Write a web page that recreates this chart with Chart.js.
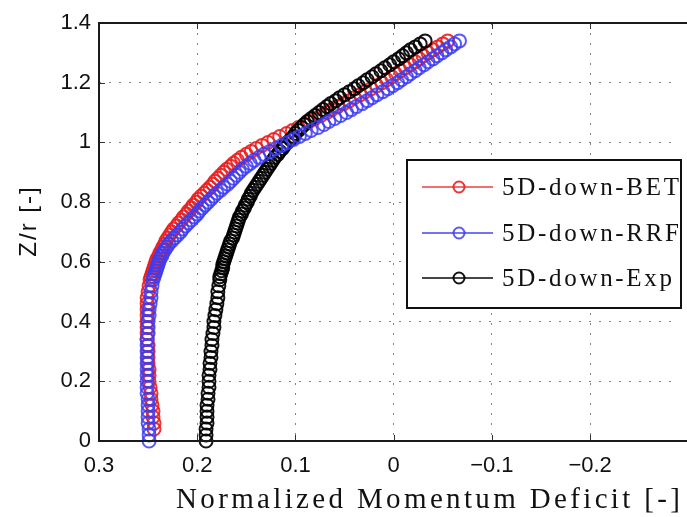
<!DOCTYPE html>
<html>
<head>
<meta charset="utf-8">
<script src="https://cdn.jsdelivr.net/npm/chart.js@4.4.1/dist/chart.umd.min.js"></script>
<style>
  html, body { margin: 0; padding: 0; background: #fff; overflow: hidden; }
  canvas { display: block; }
</style>
</head>
<body>
<canvas id="deficitChart" width="687" height="517"></canvas>
<script>
// Z/r levels the curves were read at (finer where the bands lean over)
const heights = [
  0.00, 0.02, 0.04, 0.06, 0.08, 0.10, 0.12, 0.14, 0.16, 0.18,
  0.20, 0.22, 0.24, 0.26, 0.28, 0.30, 0.32, 0.34, 0.36, 0.38,
  0.40, 0.42, 0.44, 0.46, 0.48, 0.50, 0.52, 0.54,
  0.55, 0.56, 0.57, 0.58, 0.59, 0.60, 0.61, 0.62, 0.63, 0.64,
  0.65, 0.66, 0.67, 0.68, 0.69, 0.70, 0.71, 0.72, 0.73, 0.74,
  0.75, 0.76, 0.77, 0.78, 0.79, 0.80, 0.81, 0.82, 0.83, 0.84,
  0.85, 0.86, 0.87, 0.88, 0.89, 0.90, 0.91, 0.92, 0.93, 0.94,
  0.95, 0.96, 0.97, 0.98, 0.99, 1.00, 1.01, 1.02, 1.03, 1.04,
  1.05, 1.06, 1.07, 1.08, 1.09, 1.10, 1.11, 1.12, 1.13, 1.14,
  1.15, 1.16, 1.17, 1.18, 1.19, 1.20, 1.21, 1.22, 1.23, 1.24,
  1.25, 1.26, 1.27, 1.28, 1.29, 1.30, 1.31, 1.32, 1.33, 1.34
];

// normalized momentum deficit per series
const betDeficit = [
  null, null, 0.244, 0.244, 0.245, 0.245, 0.246, 0.247, 0.247, 0.248,
  0.249, 0.249, 0.249, 0.250, 0.250, 0.250, 0.250, 0.251, 0.251, 0.251,
  0.251, 0.251, 0.251, 0.251, 0.251, 0.250, 0.249, 0.248,
  0.247, 0.246, 0.245, 0.244, 0.243, 0.242, 0.241, 0.239, 0.238, 0.236,
  0.235, 0.233, 0.232, 0.230, 0.228, 0.226, 0.224, 0.221, 0.219, 0.216,
  0.214, 0.211, 0.209, 0.206, 0.204, 0.201, 0.199, 0.196, 0.193, 0.190,
  0.187, 0.184, 0.182, 0.179, 0.176, 0.173, 0.170, 0.166, 0.163, 0.159,
  0.155, 0.150, 0.145, 0.140, 0.134, 0.128, 0.122, 0.116, 0.109, 0.103,
  0.097, 0.091, 0.086, 0.080, 0.074, 0.068, 0.063, 0.057, 0.051, 0.045,
  0.040, 0.034, 0.029, 0.023, 0.017, 0.012, 0.007, 0.002, -0.002, -0.007,
  -0.012, -0.017, -0.022, -0.026, -0.030, -0.035, -0.040, -0.045, -0.050, -0.055
];
const rrfDeficit = [
  0.249, 0.249, 0.249, 0.250, 0.250, 0.250, 0.250, 0.250, 0.251, 0.251,
  0.251, 0.251, 0.251, 0.251, 0.251, 0.251, 0.251, 0.251, 0.250, 0.250,
  0.250, 0.249, 0.249, 0.248, 0.247, 0.247, 0.246, 0.245,
  0.244, 0.243, 0.242, 0.241, 0.240, 0.239, 0.238, 0.236, 0.235, 0.233,
  0.231, 0.229, 0.226, 0.223, 0.220, 0.217, 0.215, 0.212, 0.209, 0.206,
  0.203, 0.200, 0.198, 0.195, 0.192, 0.189, 0.186, 0.183, 0.180, 0.176,
  0.173, 0.169, 0.166, 0.163, 0.160, 0.157, 0.154, 0.150, 0.146, 0.142,
  0.137, 0.132, 0.126, 0.120, 0.114, 0.108, 0.102, 0.096, 0.090, 0.084,
  0.077, 0.071, 0.066, 0.060, 0.054, 0.048, 0.043, 0.038, 0.032, 0.027,
  0.022, 0.017, 0.011, 0.006, 0.001, -0.004, -0.008, -0.013, -0.017, -0.022,
  -0.026, -0.031, -0.035, -0.040, -0.044, -0.049, -0.053, -0.058, -0.062, -0.067
];
const expDeficit = [
  0.191, 0.191, 0.191, 0.190, 0.190, 0.190, 0.190, 0.189, 0.189, 0.188,
  0.188, 0.188, 0.187, 0.187, 0.186, 0.186, 0.185, 0.185, 0.184, 0.183,
  0.183, 0.182, 0.181, 0.180, 0.179, 0.179, 0.178, 0.177,
  0.177, 0.176, 0.175, 0.174, 0.174, 0.173, 0.172, 0.171, 0.170, 0.169,
  0.168, 0.167, 0.166, 0.164, 0.163, 0.162, 0.161, 0.160, 0.159, 0.158,
  0.157, 0.155, 0.154, 0.152, 0.151, 0.149, 0.148, 0.146, 0.145, 0.143,
  0.141, 0.139, 0.137, 0.135, 0.133, 0.131, 0.129, 0.127, 0.125, 0.123,
  0.121, 0.118, 0.116, 0.113, 0.111, 0.108, 0.105, 0.102, 0.100, 0.097,
  0.094, 0.091, 0.088, 0.084, 0.080, 0.076, 0.072, 0.068, 0.064, 0.059,
  0.055, 0.050, 0.045, 0.040, 0.036, 0.031, 0.027, 0.022, 0.018, 0.013,
  0.009, 0.004, 0.000, -0.005, -0.009, -0.013, -0.017, -0.022, -0.027, -0.032
];

const seriesNames = ['5D-down-BET', '5D-down-RRF', '5D-down-Exp'];

const xTicks = [0.3, 0.2, 0.1, 0, -0.1, -0.2];
const xTickLabels = ['0.3', '0.2', '0.1', '0', '\u22120.1', '\u22120.2'];
const yTicks = [0, 0.2, 0.4, 0.6, 0.8, 1.0, 1.2, 1.4];
const yTickLabels = ['0', '0.2', '0.4', '0.6', '0.8', '1', '1.2', '1.4'];

const xTitle = 'Normalized Momentum Deficit [-]';
const yTitle = 'Z/r [-]';

function toPoints(values) {
    const pts = [];
    values.forEach(function (v, i) {
        if (v !== null) pts.push({ x: v, y: heights[i] });
    });
    return pts;
}

const markerColors = ['rgba(232,32,32,0.9)', 'rgba(60,60,245,0.85)', 'rgba(0,0,0,0.92)'];
const legendLineColors = ['rgb(245,110,110)', 'rgb(115,115,245)', 'rgb(70,70,70)'];

// frame, inner tick marks, legend box and axis titles
const decorPlugin = {
    id: 'decor',
    afterDraw(chart) {
        const ctx = chart.ctx;
        const area = chart.chartArea;
        const xs = chart.scales.x;
        const ys = chart.scales.y;
        ctx.save();

        // tick marks pointing inward
        ctx.strokeStyle = '#333';
        ctx.lineWidth = 1;
        xTicks.forEach(function (v) {
            const px = Math.round(xs.getPixelForValue(v)) + 0.5;
            ctx.beginPath();
            ctx.moveTo(px, area.top); ctx.lineTo(px, area.top + 6);
            ctx.moveTo(px, area.bottom); ctx.lineTo(px, area.bottom - 6);
            ctx.stroke();
        });
        yTicks.forEach(function (v) {
            const py = Math.round(ys.getPixelForValue(v)) + 0.5;
            ctx.beginPath();
            ctx.moveTo(area.left, py); ctx.lineTo(area.left + 6, py);
            ctx.stroke();
        });

        // axes box (right side runs off the picture)
        ctx.strokeStyle = '#1a1a1a';
        ctx.lineWidth = 2;
        ctx.beginPath();
        ctx.moveTo(chart.width + 5, area.top);
        ctx.lineTo(area.left, area.top);
        ctx.lineTo(area.left, area.bottom);
        ctx.lineTo(chart.width + 5, area.bottom);
        ctx.stroke();

        // legend
        const box = { x: 407, y: 160, w: 274, h: 148 };
        ctx.fillStyle = '#fff';
        ctx.fillRect(box.x, box.y, box.w, box.h);
        ctx.strokeStyle = '#111';
        ctx.lineWidth = 2;
        ctx.strokeRect(box.x, box.y, box.w, box.h);
        ctx.save();
        ctx.beginPath();
        ctx.rect(box.x + 1, box.y + 1, box.w - 2, box.h - 2);
        ctx.clip();
        const rows = [187, 233, 278];
        seriesNames.forEach(function (name, i) {
            const y = rows[i];
            ctx.strokeStyle = legendLineColors[i];
            ctx.lineWidth = 2;
            ctx.beginPath();
            ctx.moveTo(422, y); ctx.lineTo(493, y);
            ctx.stroke();
            ctx.strokeStyle = markerColors[i];
            ctx.beginPath();
            ctx.arc(459, y, 5.5, 0, Math.PI * 2);
            ctx.stroke();
            ctx.fillStyle = '#111';
            ctx.font = '25px "Liberation Serif", serif';
            ctx.textBaseline = 'middle';
            ctx.textAlign = 'left';
            ctx.letterSpacing = '2.7px';
            ctx.fillText(name, 502, y + 1);
        });
        ctx.restore();

        // x title
        ctx.fillStyle = '#111';
        ctx.font = '29px "Liberation Serif", serif';
        ctx.textAlign = 'left';
        ctx.textBaseline = 'alphabetic';
        ctx.letterSpacing = '0px';
        const w = ctx.measureText(xTitle).width;
        ctx.letterSpacing = ((504 - w) / (xTitle.length - 1)).toFixed(2) + 'px';
        ctx.fillText(xTitle, 176, 508);

        // y title
        ctx.translate(29, 221);
        ctx.rotate(-Math.PI / 2);
        ctx.font = '24px "Liberation Sans", sans-serif';
        ctx.letterSpacing = '2px';
        ctx.textAlign = 'center';
        ctx.textBaseline = 'middle';
        ctx.fillText(yTitle, 0, 0);
        ctx.restore();
    }
};

document.addEventListener('DOMContentLoaded', function () {
    const canvas = document.getElementById('deficitChart');
    const ctx = canvas.getContext('2d');
    const dataSets = [betDeficit, rrfDeficit, expDeficit];
    const drawOrder = [3, 1, 2];

    new Chart(ctx, {
        type: 'scatter',
        data: {
            datasets: dataSets.map(function (vals, i) {
                return {
                    label: seriesNames[i],
                    data: toPoints(vals),
                    borderColor: markerColors[i],
                    backgroundColor: 'rgba(0,0,0,0)',
                    pointRadius: 6.5,
                    pointBorderWidth: 2,
                    showLine: false,
                    clip: false,
                    order: drawOrder[i]
                };
            })
        },
        options: {
            responsive: false,
            animation: false,
            devicePixelRatio: 1,
            layout: { padding: { top: 23, right: 0, left: 0, bottom: 0 } },
            plugins: { legend: { display: false }, tooltip: { enabled: false } },
            scales: {
                x: {
                    type: 'linear',
                    reverse: true,
                    min: -0.29,
                    max: 0.3,
                    afterBuildTicks: function (scale) {
                        scale.ticks = xTicks.map(function (v) { return { value: v }; });
                    },
                    afterFit: function (scale) { scale.height = 76; },
                    ticks: {
                        autoSkip: false,
                        maxRotation: 0,
                        padding: 12,
                        color: '#111',
                        font: { family: '"Liberation Sans", Arial, sans-serif', size: 22 },
                        callback: function (value) {
                            const idx = xTicks.findIndex(function (t) { return Math.abs(t - value) < 1e-9; });
                            return idx >= 0 ? xTickLabels[idx] : '';
                        }
                    },
                    grid: { color: 'rgba(90,90,90,0.75)', lineWidth: 1, drawTicks: false },
                    border: { display: false, dash: [2, 8] }
                },
                y: {
                    type: 'linear',
                    min: 0,
                    max: 1.4,
                    afterBuildTicks: function (scale) {
                        scale.ticks = yTicks.map(function (v) { return { value: v }; });
                    },
                    afterFit: function (scale) { scale.width = 99; },
                    ticks: {
                        autoSkip: false,
                        padding: 8,
                        color: '#111',
                        font: { family: '"Liberation Sans", Arial, sans-serif', size: 22 },
                        callback: function (value) {
                            const idx = yTicks.findIndex(function (t) { return Math.abs(t - value) < 1e-9; });
                            return idx >= 0 ? yTickLabels[idx] : '';
                        }
                    },
                    grid: { color: 'rgba(90,90,90,0.75)', lineWidth: 1, drawTicks: false },
                    border: { display: false, dash: [2, 8] }
                }
            }
        },
        plugins: [decorPlugin]
    });
});
</script>
</body>
</html>
